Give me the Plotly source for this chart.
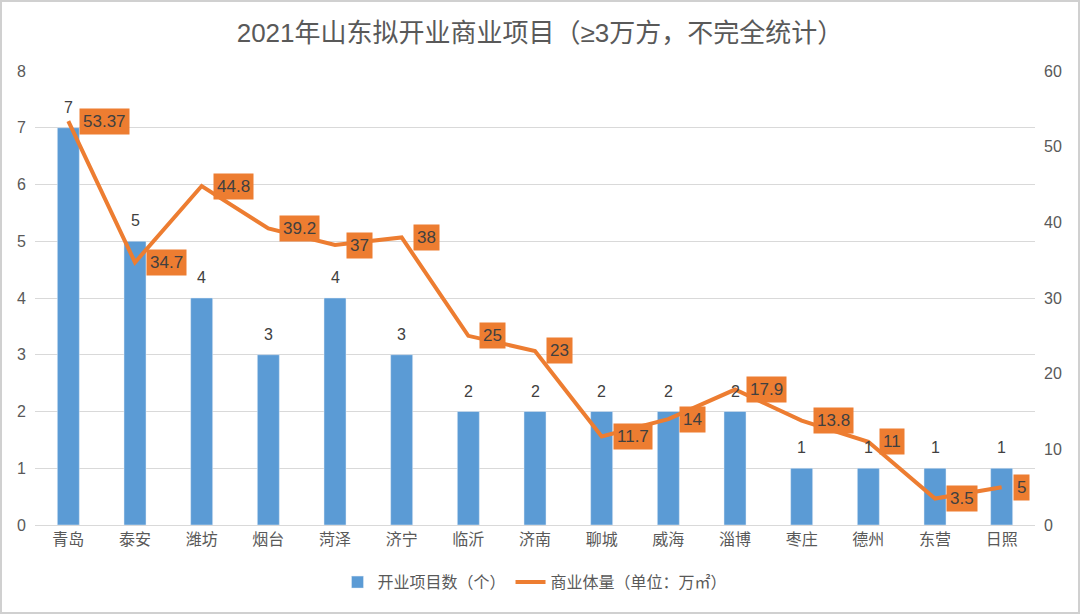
import plotly.graph_objects as go

categories = ["青岛", "泰安", "潍坊", "烟台", "菏泽", "济宁", "临沂", "济南", "聊城", "威海", "淄博", "枣庄", "德州", "东营", "日照"]
project_counts = [7, 5, 4, 3, 4, 3, 2, 2, 2, 2, 2, 1, 1, 1, 1]
area_values = [53.37, 34.7, 44.8, 39.2, 37, 38, 25, 23, 11.7, 14, 17.9, 13.8, 11, 3.5, 5]
area_labels = ["53.37", "34.7", "44.8", "39.2", "37", "38", "25", "23", "11.7", "14", "17.9", "13.8", "11", "3.5", "5"]
left_ticks = [0, 1, 2, 3, 4, 5, 6, 7, 8]
right_ticks = [0, 10, 20, 30, 40, 50, 60]

FONT = "Liberation Sans, Noto Sans CJK SC, sans-serif"
BLUE = "#5B9BD5"
ORANGE = "#ED7D31"

fig = go.Figure()
fig.add_trace(go.Bar(
    x=categories, y=project_counts, name="开业项目数（个）",
    marker=dict(color=BLUE), width=0.33,
))
fig.add_trace(go.Scatter(
    x=categories, y=area_values, name="商业体量（单位：万㎡）", yaxis="y2",
    mode="lines", line=dict(color=ORANGE, width=4),
))

for c, v in zip(categories, project_counts):
    fig.add_annotation(
        x=c, y=v, xref="x", yref="y", text=str(v), showarrow=False,
        xanchor="center", yanchor="bottom", yshift=10,
        font=dict(size=16, color="#404040", family=FONT),
    )

for c, v, t in zip(categories, area_values, area_labels):
    fig.add_annotation(
        x=c, y=v, xref="x", yref="y2", text=t, showarrow=False,
        xanchor="left", yanchor="middle", xshift=11,
        bgcolor=ORANGE, borderpad=3,
        font=dict(size=17, color="#404040", family=FONT),
    )

fig.update_layout(
    width=1080, height=614,
    margin=dict(l=35, r=45, t=71, b=89),
    paper_bgcolor="white", plot_bgcolor="white",
    font=dict(family=FONT, color="#595959", size=16),
    title=dict(text="2021年山东拟开业商业项目（≥3万方，不完全统计）", x=0.5, xanchor="center",
               y=0.946, yanchor="middle", font=dict(size=26, color="#595959", family=FONT)),
    bargap=0.67,
    showlegend=True,
    legend=dict(orientation="h", x=0.5, xanchor="center", y=-0.126, yanchor="middle",
                font=dict(size=16, color="#595959", family=FONT), traceorder="normal"),
    xaxis=dict(tickfont=dict(size=16, color="#595959"), showline=True, linecolor="#D9D9D9",
               ticks="", showgrid=False),
    yaxis=dict(range=[0, 8], tickvals=left_ticks, showgrid=True, gridcolor="#D9D9D9",
               zeroline=False, tickfont=dict(size=16, color="#595959"), ticks="", ticklabelstandoff=8),
    yaxis2=dict(range=[0, 60], tickvals=right_ticks, overlaying="y", side="right",
                showgrid=False, zeroline=False, tickfont=dict(size=16, color="#595959"), ticks="",
                ticklabelstandoff=8),
)

fig.add_shape(type="rect", xref="paper", yref="paper",
              x0=-34/1000, x1=1+44/1000, y0=-88/454, y1=1+70/454,
              line=dict(color="#D0D0D0", width=2), fillcolor="rgba(0,0,0,0)", layer="below")

fig.write_html("out.html", config={"displayModeBar": False},
               post_script="document.body.style.margin='0';")
